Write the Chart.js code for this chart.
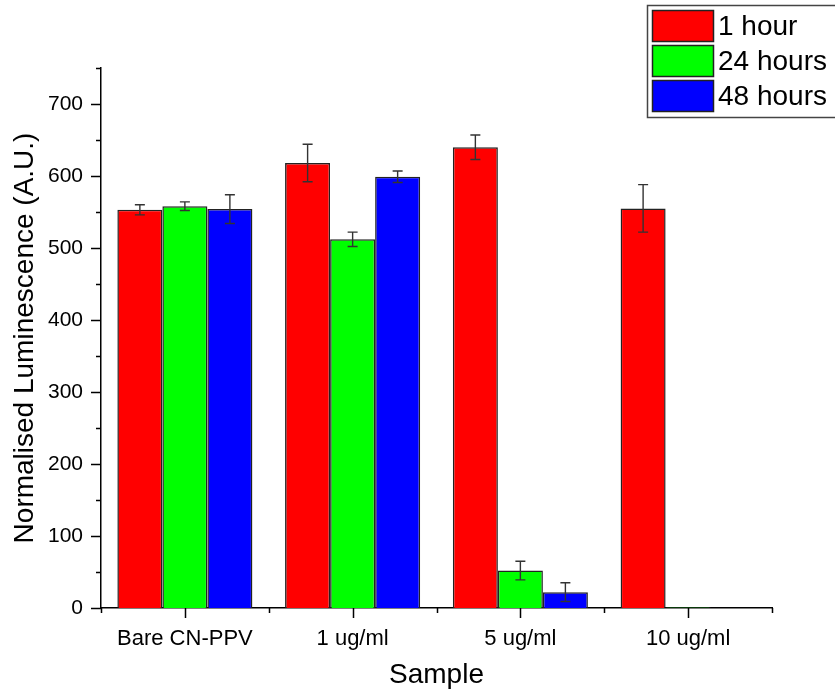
<!DOCTYPE html>
<html>
<head>
<meta charset="utf-8">
<script src="https://cdn.jsdelivr.net/npm/chart.js@4/dist/chart.umd.min.js"></script>
<style>
  body { margin: 0; background: #fff; }
  #wrap { width: 835px; height: 696px; }
</style>
</head>
<body>
<div id="wrap"><canvas id="lumChart" width="835" height="696"></canvas></div>
<script>
// Data
const samples = ['Bare CN-PPV', '1 ug/ml', '5 ug/ml', '10 ug/ml'];
const seriesNames = ['1 hour', '24 hours', '48 hours'];
const oneHour = [553, 618, 640, 555];
const oneHourErr = [7, 26, 17, 33];
const day1 = [558, 512, 52, 1];
const day1Err = [6, 10, 13, 0];
const day2 = [554, 599, 22, 0];
const day2Err = [20, 8, 13, 0];
const yTicks = [0, 100, 200, 300, 400, 500, 600, 700];

const colours = ['#ff0000', '#00ff00', '#0000ff'];
const errors = [oneHourErr, day1Err, day2Err];
const FONT = 'Liberation Sans, Arial, sans-serif';

// error bars on top of each bar
const errorBars = {
    id: 'errorBars',
    afterDatasetsDraw(chart) {
        const ctx = chart.ctx;
        const yScale = chart.scales.y;
        ctx.save();
        ctx.strokeStyle = '#333';
        ctx.lineWidth = 1.4;
        chart.data.datasets.forEach((ds, i) => {
            const meta = chart.getDatasetMeta(i);
            meta.data.forEach((bar, j) => {
                const err = errors[i][j];
                if (!err) return;
                const top = yScale.getPixelForValue(ds.data[j] + err);
                const bot = yScale.getPixelForValue(ds.data[j] - err);
                ctx.beginPath();
                ctx.moveTo(bar.x, top); ctx.lineTo(bar.x, bot);
                ctx.moveTo(bar.x - 5, top); ctx.lineTo(bar.x + 5, top);
                ctx.moveTo(bar.x - 5, bot); ctx.lineTo(bar.x + 5, bot);
                ctx.stroke();
            });
        });
        ctx.restore();
    }
};

// outward tick marks, long for major and short for minor
const tickMarks = {
    id: 'tickMarks',
    afterDraw(chart) {
        const ctx = chart.ctx;
        const x = chart.scales.x, y = chart.scales.y;
        const area = chart.chartArea;
        ctx.save();
        ctx.strokeStyle = '#000';
        ctx.lineWidth = 1.5;
        ctx.beginPath();
        y.ticks.forEach(t => {
            const py = Math.round(y.getPixelForValue(t.value)) + 0.5;
            const len = t.value % 100 === 0 ? 10 : 5;
            ctx.moveTo(area.left - len, py); ctx.lineTo(area.left, py);
        });
        const step = (area.right - area.left) / samples.length;
        for (let k = 0; k <= samples.length; k++) {
            const px = Math.round(area.left + k * step) + 0.5;
            ctx.moveTo(px, area.bottom); ctx.lineTo(px, area.bottom + 5);
        }
        samples.forEach((s, k) => {
            const px = Math.round(x.getPixelForValue(k)) + 0.5;
            ctx.moveTo(px, area.bottom); ctx.lineTo(px, area.bottom + 10);
        });
        ctx.stroke();
        ctx.restore();
    }
};

// boxed legend in the top right corner
const cornerLegend = {
    id: 'cornerLegend',
    afterDraw(chart) {
        const ctx = chart.ctx;
        ctx.save();
        ctx.strokeStyle = '#444';
        ctx.lineWidth = 1.5;
        ctx.strokeRect(647.5, 5.5, 200, 112);
        ctx.font = '28px ' + FONT;
        ctx.textBaseline = 'middle';
        seriesNames.forEach((name, i) => {
            const top = 10 + i * 35;
            ctx.fillStyle = colours[i];
            ctx.fillRect(652, top, 62, 32);
            ctx.strokeStyle = '#222';
            ctx.strokeRect(652.5, top + 0.5, 61, 31);
            ctx.fillStyle = '#000';
            ctx.fillText(name, 718, top + 17);
        });
        ctx.restore();
    }
};

const lumChart = new Chart(document.getElementById('lumChart'), {
    type: 'bar',
    data: {
        labels: samples,
        datasets: [oneHour, day1, day2].map((vals, i) => ({
            label: seriesNames[i],
            data: vals,
            backgroundColor: colours[i],
            borderColor: '#222',
            borderWidth: 1.5,
            borderSkipped: 'bottom',
            categoryPercentage: 0.805,
            barPercentage: 1.0
        }))
    },
    options: {
        responsive: false,
        devicePixelRatio: 1,
        animation: false,
        layout: { padding: { top: 68, right: 63, left: 0, bottom: 0 } },
        plugins: { legend: { display: false }, tooltip: { enabled: false } },
        scales: {
            x: {
                grid: { display: false, tickLength: 10 },
                border: { display: true, color: '#000', width: 1.5 },
                ticks: { color: '#000', font: { family: FONT, size: 22 }, padding: 8, maxRotation: 0 },
                title: { display: true, text: 'Sample', color: '#000', font: { family: FONT, size: 28 }, padding: { top: 4 } },
                afterFit(scale) { scale.height = 88; }
            },
            y: {
                min: 0,
                max: 750,
                grid: { display: false, tickLength: 10 },
                border: { display: true, color: '#000', width: 1.5 },
                ticks: {
                    stepSize: 50,
                    color: '#000',
                    font: { family: FONT, size: 21 },
                    padding: 8,
                    callback: v => yTicks.includes(v) ? v : ''
                },
                title: { display: true, text: 'Normalised Luminescence (A.U.)', color: '#000', font: { family: FONT, size: 28 }, padding: { top: 8, bottom: 4 } },
                afterFit(scale) { scale.width = 101; }
            }
        }
    },
    plugins: [errorBars, tickMarks, cornerLegend]
});
</script>
</body>
</html>
